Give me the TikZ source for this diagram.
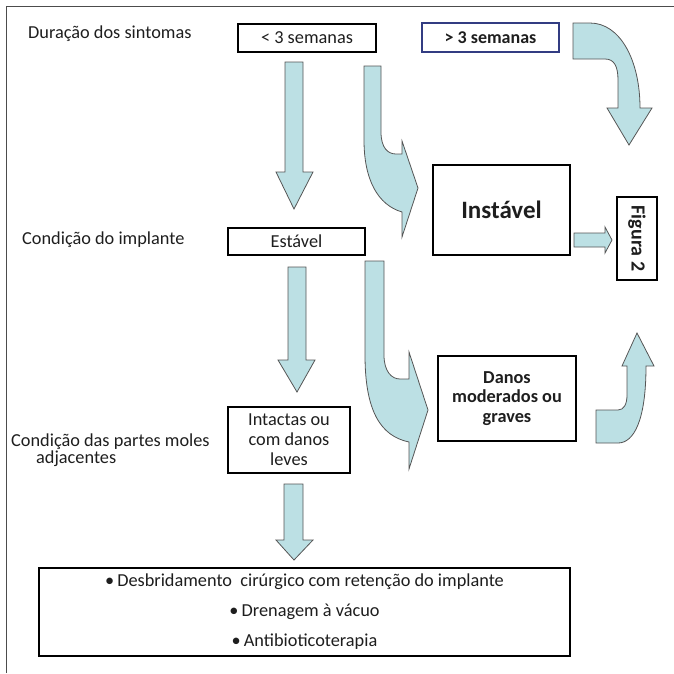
\documentclass[tikz,border=0pt]{standalone}
\usepackage{fontspec}
\setmainfont{Carlito}
\definecolor{arrfill}{RGB}{188,224,228}
\definecolor{arrline}{RGB}{85,85,85}
\definecolor{txt}{RGB}{30,30,30}
\definecolor{navy}{RGB}{50,60,130}
\tikzset{
  box/.style={draw=black, line width=1.3pt, fill=white, inner sep=0pt, align=center, text=txt, font=\fontsize{18.3}{20}\selectfont},
  lbl/.style={inner sep=0pt, text=txt, font=\fontsize{18.3}{20}\selectfont, anchor=west},
  barrow/.style={fill=arrfill, draw=arrline, line width=0.8pt, line join=miter},
}
\begin{document}
\begin{tikzpicture}[x=1pt,y=-1pt]
\useasboundingbox (0,0) rectangle (674,673);
% outer frame (partially visible)
\draw[line width=1pt, draw=black!70] (6,673) -- (6,6) -- (674,6);

% labels
\node[lbl] (l1) at (28,34) {Duração dos sintomas};
\node[lbl] (l2) at (22,240) {Condição do implante};
\node[lbl, align=left, font=\fontsize{18.3}{14.5}\selectfont] (l3) at (11,450) {Condição das partes moles\\\hspace*{25pt}adjacentes};

% boxes
\node[box, minimum width=138pt, minimum height=28pt] (lt3) at (307,38) {< 3 semanas};
\node[box, draw=navy, line width=1.1pt, minimum width=137pt, minimum height=29pt, font=\bfseries\fontsize{18}{20}\selectfont] (gt3) at (490.5,37.5) {> 3 semanas};
\node[box, minimum width=137pt, minimum height=90pt, font=\bfseries\fontsize{25}{28}\selectfont] (inst) at (501.5,210) {Instável};
\node[box, minimum width=40pt, minimum height=83pt] (fig) at (637,238.5) {};
\node[rotate=-90, inner sep=0pt, text=txt, font=\bfseries\fontsize{20}{22}\selectfont] (figt) at (fig.center) {Figura 2};
\node[box, minimum width=137pt, minimum height=27pt] (est) at (296.5,241.5) {Estável};
\node[box, minimum width=138pt, minimum height=85pt, font=\bfseries\fontsize{18.3}{19.5}\selectfont] (danos) at (507,398.5) {Danos\\moderados ou\\graves};
\node[box, minimum width=122pt, minimum height=66pt] (intact) at (289,440) {Intactas ou\\com danos\\leves};
\node[box, minimum width=531pt, minimum height=88pt, font=\fontsize{18.3}{30}\selectfont] (bottom) at (304.5,612) {\textbullet\,Desbridamento\ \ cirúrgico com retenção do implante\\ \textbullet\,Drenagem à vácuo\\ \textbullet\,Antibioticoterapia};

% straight block arrows
\draw[barrow] (285,62) -- (303,62) -- (303,172) -- (313,172) -- (294,209) -- (276,172) -- (285,172) -- cycle;
\draw[barrow] (288,267) -- (306,267) -- (306,360) -- (315,360) -- (297,392) -- (278,360) -- (288,360) -- cycle;
\draw[barrow] (284,484) -- (303,484) -- (303,540) -- (313,540) -- (294,560) -- (276,540) -- (284,540) -- cycle;
\draw[barrow] (574,233) -- (605,233) -- (605,227) -- (612,240) -- (605,253) -- (605,247) -- (574,247) -- cycle;

% curved block arrows
\draw[barrow] (573,23) -- (590,23) .. controls (620,23) and (640,60) .. (640,108) -- (652,108) -- (629,145) -- (607,108) -- (618,108) -- (618,80) .. controls (618,66) and (614,59) .. (605,59) -- (573,59) -- cycle;
\draw[barrow] (364,66) -- (381,66) -- (381,132) .. controls (381,148) and (388,154) .. (396,154) -- (402,154) -- (402,141) -- (418,188) -- (402,237) -- (402,212) .. controls (378,205) and (364,180) .. (364,140) -- cycle;
\draw[barrow] (365,261) -- (384,261) -- (384,355) .. controls (384,372) and (392,379) .. (400,379) -- (409,379) -- (409,352) -- (428,410) -- (409,469) -- (409,442) .. controls (380,436) and (365,410) .. (365,355) -- cycle;
\draw[barrow] (596,410) -- (618,410) .. controls (624,410) and (627,404) .. (627,395) -- (627,366) -- (622,366) -- (637,333) -- (654,366) -- (646,366) .. controls (646,420) and (634,443) .. (618,443) -- (596,443) -- cycle;
\end{tikzpicture}
\end{document}
